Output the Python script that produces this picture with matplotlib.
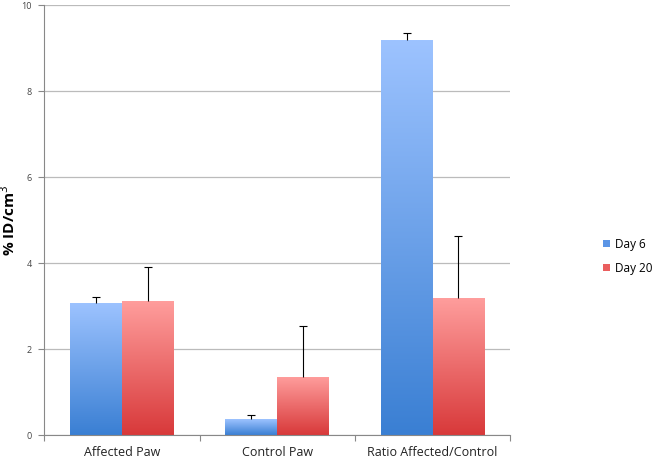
import numpy as np
import matplotlib.pyplot as plt
from matplotlib.colors import LinearSegmentedColormap
from matplotlib.patches import Patch

plt.rcParams['font.family'] = ['Open Sans', 'DejaVu Sans']

categories = ["Affected Paw", "Control Paw", "Ratio Affected/Control"]
day6 = [3.07, 0.37, 9.18]
day6_err = [0.15, 0.10, 0.17]
day20 = [3.12, 1.35, 3.20]
day20_err = [0.78, 1.20, 1.43]
series_names = ["Day 6", "Day 20"]

blue_map = LinearSegmentedColormap.from_list("b", ["#3a7fd3", "#9dc3ff"])
red_map = LinearSegmentedColormap.from_list("r", ["#d8393a", "#ff9e9d"])

fig = plt.figure(figsize=(6.6, 4.65), dpi=100)
ax = fig.add_axes([0.067, 0.064, 0.706, 0.925])

x = np.arange(len(categories))
w = 1 / 3
grad = np.linspace(0, 1, 256).reshape(-1, 1)

for vals, errs, offs, cmap in [(day6, day6_err, -w / 2, blue_map),
                               (day20, day20_err, w / 2, red_map)]:
    bars = ax.bar(x + offs, vals, w, color="none", edgecolor="none", zorder=2)
    for b in bars:
        x0, y0 = b.get_x(), b.get_y()
        im = ax.imshow(grad, cmap=cmap, origin="lower", aspect="auto",
                       extent=[x0, x0 + b.get_width(), y0, y0 + b.get_height()],
                       zorder=2)
        im.set_clip_path(b)
    eb = ax.errorbar(x + offs, vals, yerr=[np.zeros(len(errs)), errs], fmt="none",
                     ecolor="black", elinewidth=0.8, capsize=3, capthick=0.8, zorder=3)
    eb[1][0].set_visible(False)  # only the upper cap

ax.set_xlim(-0.5, 2.5)
ax.set_ylim(0, 10)
ax.set_yticks(range(0, 11, 2))
ax.set_xticks([-0.5, 0.5, 1.5, 2.5], minor=False)
ax.set_xticklabels([])
ax.set_xticks(x, minor=True)
ax.set_xticklabels(categories, minor=True, fontsize=9, color="#222222")
ax.tick_params(axis="x", which="minor", length=0, pad=8)
ax.tick_params(axis="x", which="major", length=4, color="#888888")
ax.tick_params(axis="y", length=4, color="#888888", labelsize=6.5, labelcolor="#444444", pad=5)
ax.grid(axis="y", color="#bbbbbb", linewidth=0.9, zorder=0)
ax.set_axisbelow(True)
for s in ["top", "right"]:
    ax.spines[s].set_visible(False)
for s in ["left", "bottom"]:
    ax.spines[s].set_color("#888888")
ax.set_ylabel("% ID/cm$^3$", fontsize=11, fontweight="bold")
ax.yaxis.set_label_coords(-0.057, 0.5)

handles = [Patch(facecolor="#5b95e6"), Patch(facecolor="#ea5e5e")]
fig.legend(handles, series_names, loc="center left", bbox_to_anchor=(0.914, 0.449),
           frameon=False, fontsize=8.5, handlelength=0.6, handleheight=0.6,
           handletextpad=0.4, labelspacing=0.95, borderpad=0, borderaxespad=0)

fig.savefig("out.png", dpi=100)
